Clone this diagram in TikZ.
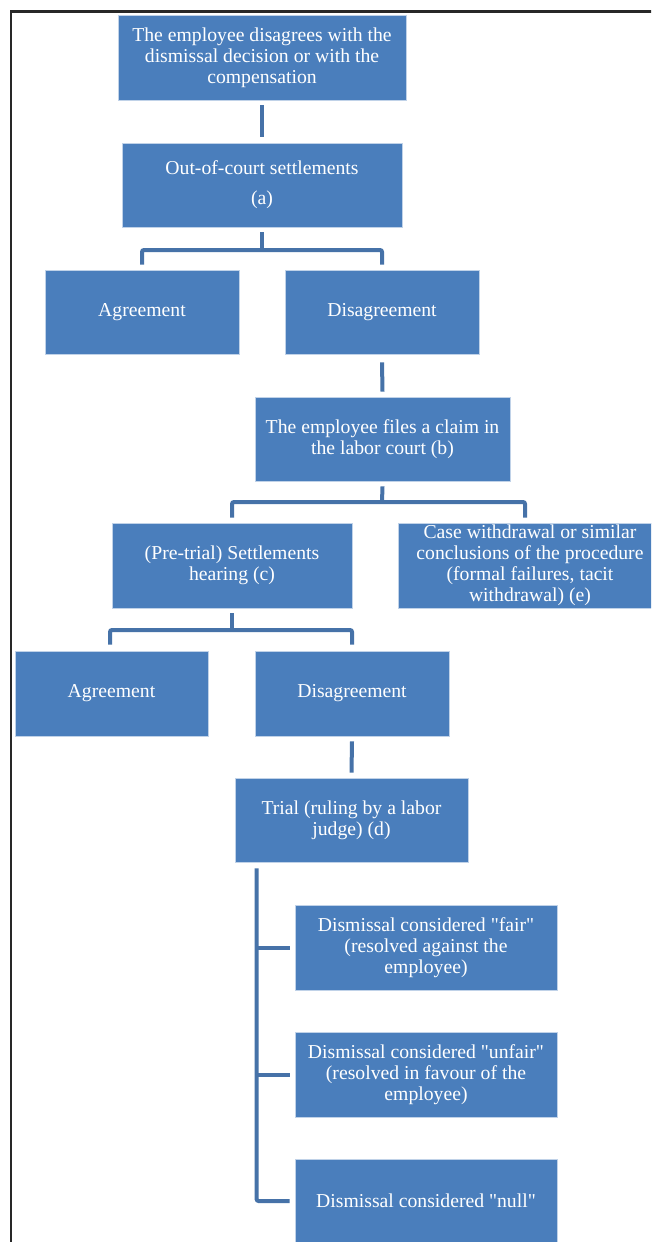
\documentclass[tikz,border=0pt]{standalone}
\usepackage{fontspec}
\setmainfont{Liberation Serif}
\newfontfamily\boxfont{Liberation Serif}
\definecolor{boxblue}{RGB}{74,126,188}
\definecolor{lineblue}{RGB}{70,114,168}
\definecolor{frame}{RGB}{40,40,40}
\begin{document}
\begin{tikzpicture}[x=1pt,y=-1pt,
  box/.style={rectangle,fill=boxblue,draw=white!65!boxblue,line width=0.8pt,
    text=white,align=center,inner sep=0pt,
    font=\boxfont\fontsize{19.7}{21}\selectfont},
  conn/.style={draw=lineblue,line width=4pt,rounded corners=2pt}]
\clip (0,0) rectangle (651,1242);
\fill[white] (0,0) rectangle (651,1242);
\draw[frame,line width=2.8pt] (11,1260) -- (11,11.5) -- (670,11.5);

\node[box,minimum width=288pt,minimum height=85pt] (top) at (262,57.5)
  {The employee disagrees with the\\dismissal decision or with the\\compensation};
\node[box,minimum width=280pt,minimum height=84pt] (occ) at (262,185)
  {Out-of-court settlements\\[9pt](a)};
\node[box,minimum width=194pt,minimum height=84pt] (ag1) at (142,312) {Agreement};
\node[box,minimum width=194pt,minimum height=84pt] (dis1) at (382,312) {Disagreement};
\node[box,minimum width=255pt,minimum height=84pt] (file) at (382.5,439)
  {The employee files a claim in\\the labor court (b)};
\node[box,minimum width=240pt,minimum height=85pt] (pre) at (232,565.5)
  {(Pre-trial) Settlements\\hearing (c)};
\node[box,minimum width=264pt,minimum height=85pt] (cw) at (530,565.5)
  {Case withdrawal or similar\\conclusions of the procedure\\(formal failures, tacit\\withdrawal) (e)};
\node[box,minimum width=193pt,minimum height=85pt] (ag2) at (111.5,693.5) {Agreement};
\node[box,minimum width=194pt,minimum height=85pt] (dis2) at (352,693.5) {Disagreement};
\node[box,minimum width=233pt,minimum height=84pt] (trial) at (351.5,820)
  {Trial (ruling by a labor\\judge) (d)};
\node[box,minimum width=262pt,minimum height=85pt] (fair) at (426,947.5)
  {Dismissal considered "fair"\\(resolved against the\\employee)};
\node[box,minimum width=262pt,minimum height=85pt] (unfair) at (426,1074.5)
  {Dismissal considered "unfair"\\(resolved in favour of the\\employee)};
\node[box,minimum width=262pt,minimum height=84pt] (null) at (426,1201)
  {Dismissal considered "null"};

% connectors
\draw[conn] ([yshift=-5pt]top.south) -- ([yshift=6pt]occ.north);
\coordinate (b1) at (262,250);
\draw[conn] ([yshift=-5pt]occ.south) -- (b1);
\draw[conn] ([yshift=5pt]ag1.north) |- (b1) -| ([yshift=5pt]dis1.north);
\draw[conn] ([yshift=-8pt]dis1.south) -- ([yshift=5pt]file.north);
\coordinate (b2) at (382,502);
\draw[conn] ([yshift=-5pt]file.south) -- (b2);
\draw[conn] ([yshift=5pt]pre.north) |- (b2) -| ([xshift=-5pt,yshift=5pt]cw.north);
\coordinate (b3) at (232,630);
\draw[conn] ([yshift=-5pt]pre.south) -- (b3);
\draw[conn] ([xshift=-1.5pt,yshift=6pt]ag2.north) |- (b3) -| ([yshift=6pt]dis2.north);
\draw[conn] ([yshift=-5pt]dis2.south) -- ([yshift=5pt]trial.north);
\coordinate (tl) at ([xshift=22pt,yshift=-6pt]trial.south west);
\draw[conn] (tl) |- ([xshift=-5pt]null.west);
\draw[conn] ([xshift=-5pt]fair.west) -- (tl |- fair.west);
\draw[conn] ([xshift=-5pt]unfair.west) -- (tl |- unfair.west);
\end{tikzpicture}
\end{document}
